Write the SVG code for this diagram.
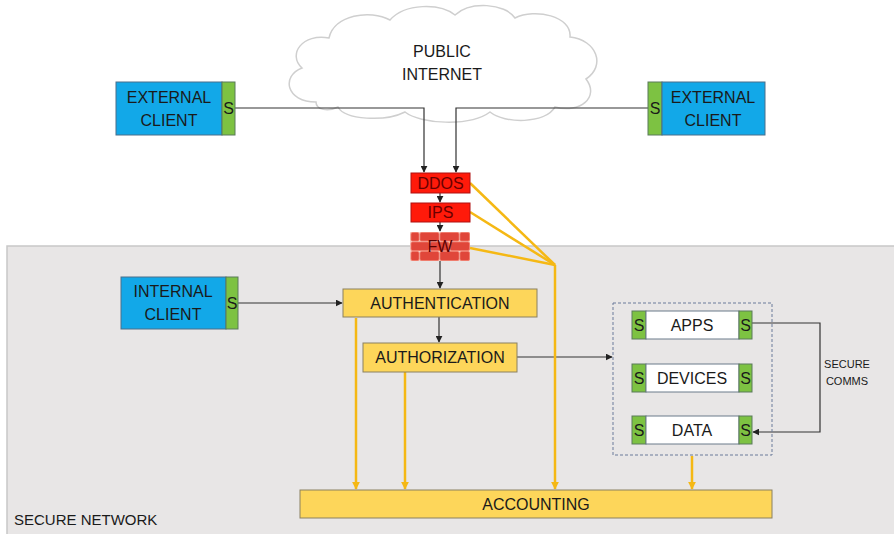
<svg xmlns="http://www.w3.org/2000/svg" width="894" height="534" viewBox="0 0 894 534">
<defs>
<style>
text{font-family:"Liberation Sans",Arial,sans-serif;fill:#1a1a1a;text-anchor:middle}
.t{font-size:16px}
.blue{fill:#12a8e8;stroke:#4a6f8a;stroke-width:1}
.green{fill:#7dc242;stroke:#5a7a5a;stroke-width:1}
.yel{fill:#fdd65a;stroke:#8a8060;stroke-width:1}
.wht{fill:#ffffff;stroke:#6a7a8a;stroke-width:1}
.ln{fill:none;stroke:#333;stroke-width:1.2}
.yl{fill:none;stroke:#f5b814;stroke-width:2.5}
.red{fill:#ff1a0a;stroke:#b01010;stroke-width:1}
.brick{fill:#e0463a;stroke:#f07a6a;stroke-width:0.8}
</style>
<marker id="ab" viewBox="0 0 10 10" refX="9" refY="5" markerWidth="7" markerHeight="7" orient="auto" markerUnits="userSpaceOnUse"><path d="M0,0 L10,5 L0,10 Z" fill="#222"/></marker>
<marker id="ay" viewBox="0 0 10 10" refX="9" refY="5" markerWidth="8" markerHeight="8" orient="auto" markerUnits="userSpaceOnUse"><path d="M0,0 L10,5 L0,10 Z" fill="#f5b814"/></marker>
</defs>
<rect width="894" height="534" fill="#ffffff"/>
<g id="secure-network">
<rect x="7" y="246" width="900" height="300" fill="#e8e6e6" stroke="#c8c8c8" stroke-width="1.5"/>
<text x="14" y="525" style="font-size:15px;text-anchor:start">SECURE NETWORK</text>
</g>
<g id="cloud">
<path d="M316,102 C286,102 281,76 302,68 C287,54 303,33 329,38 C334,15 370,9 390,20 C405,3 440,3 455,15 C470,1 505,3 515,18 C535,8 572,16 570,37 C597,40 606,66 586,79 C600,97 580,114 555,107 C545,124 505,124 490,112 C470,127 420,124 405,112 C385,122 345,120 338,107 C328,112 316,110 316,102 Z" fill="#ffffff" stroke="#cfcfcf" stroke-width="1.5"/>
<text class="t" x="442" y="57">PUBLIC</text>
<text class="t" x="442" y="80">INTERNET</text>
</g>
<g id="connectors">
<polyline class="ln" points="235,108 424,108 424,172" marker-end="url(#ab)"/>
<polyline class="ln" points="648,108 456,108 456,172" marker-end="url(#ab)"/>
<line class="ln" x1="440" y1="193" x2="440" y2="202" marker-end="url(#ab)"/>
<line class="ln" x1="440" y1="222" x2="440" y2="231" marker-end="url(#ab)"/>
<line class="ln" x1="440" y1="261" x2="440" y2="288" marker-end="url(#ab)"/>
<line class="ln" x1="238" y1="303" x2="342" y2="303" marker-end="url(#ab)"/>
<line class="ln" x1="439" y1="317" x2="439" y2="342" marker-end="url(#ab)"/>
<line class="ln" x1="517" y1="357" x2="612" y2="357" marker-end="url(#ab)"/>
<polyline class="ln" points="752,323 820,323 820,432 753,432" marker-end="url(#ab)"/>
<polyline class="yl" points="470,183 555,265"/>
<polyline class="yl" points="470,212 555,265"/>
<polyline class="yl" points="470,248 555,265"/>
<line class="yl" x1="555" y1="265" x2="555" y2="489" marker-end="url(#ay)"/>
<line class="yl" x1="356" y1="318" x2="356" y2="489" marker-end="url(#ay)"/>
<line class="yl" x1="405" y1="372" x2="405" y2="489" marker-end="url(#ay)"/>
<line class="yl" x1="692" y1="456" x2="692" y2="489" marker-end="url(#ay)"/>
<text x="847" y="368" style="font-size:11px">SECURE</text>
<text x="847" y="385" style="font-size:11px">COMMS</text>
</g>
<g id="external-client-left">
<rect class="blue" x="116" y="82" width="106" height="53"/>
<rect class="green" x="222" y="82" width="13" height="53"/>
<text class="t" x="169" y="103">EXTERNAL</text>
<text class="t" x="169" y="126">CLIENT</text>
<text class="t" x="228.5" y="114">S</text>
</g>
<g id="external-client-right">
<rect class="green" x="648" y="82" width="14" height="53"/>
<rect class="blue" x="662" y="82" width="103" height="53"/>
<text class="t" x="713" y="103">EXTERNAL</text>
<text class="t" x="713" y="126">CLIENT</text>
<text class="t" x="655" y="114">S</text>
</g>
<g id="ddos">
<rect class="red" x="411" y="173" width="59" height="20"/>
<text x="440.5" y="189" style="font-size:16px;fill:#6a0000">DDOS</text>
</g>
<g id="ips">
<rect class="red" x="411" y="203" width="59" height="19"/>
<text x="440.5" y="218" style="font-size:16px;fill:#6a0000">IPS</text>
</g>
<g id="fw">
<rect x="410" y="232" width="60" height="29" fill="#f6d0c8"/>
<rect class="brick" x="411" y="232.5" width="8" height="8.5" rx="1.5"/>
<rect class="brick" x="420" y="232.5" width="19" height="8.5" rx="1.5"/>
<rect class="brick" x="440" y="232.5" width="19" height="8.5" rx="1.5"/>
<rect class="brick" x="460" y="232.5" width="9.5" height="8.5" rx="1.5"/>
<rect class="brick" x="411" y="242" width="18" height="8.5" rx="1.5"/>
<rect class="brick" x="430" y="242" width="19" height="8.5" rx="1.5"/>
<rect class="brick" x="450" y="242" width="19.5" height="8.5" rx="1.5"/>
<rect class="brick" x="411" y="251.5" width="8" height="9" rx="1.5"/>
<rect class="brick" x="420" y="251.5" width="19" height="9" rx="1.5"/>
<rect class="brick" x="440" y="251.5" width="19" height="9" rx="1.5"/>
<rect class="brick" x="460" y="251.5" width="9.5" height="9" rx="1.5"/>
<text x="440" y="252" style="font-size:16px;fill:#5a0000">FW</text>
</g>
<g id="internal-client">
<rect class="blue" x="121" y="277" width="105" height="52"/>
<rect class="green" x="226" y="277" width="12" height="52"/>
<text class="t" x="173" y="297">INTERNAL</text>
<text class="t" x="173" y="320">CLIENT</text>
<text class="t" x="232" y="309">S</text>
</g>
<g id="authentication">
<rect class="yel" x="343" y="289" width="194" height="28"/>
<text class="t" x="440" y="309">AUTHENTICATION</text>
</g>
<g id="authorization">
<rect class="yel" x="363" y="343" width="154" height="29"/>
<text class="t" x="440" y="363">AUTHORIZATION</text>
</g>
<g id="resources">
<rect x="613" y="303" width="159" height="152" fill="none" stroke="#6a7a9a" stroke-width="1" stroke-dasharray="3,2"/>
</g>
<g id="apps">
<rect class="green" x="632" y="311" width="14" height="28"/>
<rect class="wht" x="646" y="311" width="93" height="28"/>
<rect class="green" x="739" y="311" width="13" height="28"/>
<text class="t" x="639" y="331">S</text>
<text class="t" x="692" y="331">APPS</text>
<text class="t" x="745.5" y="331">S</text>
</g>
<g id="devices">
<rect class="green" x="632" y="364" width="14" height="28"/>
<rect class="wht" x="646" y="364" width="93" height="28"/>
<rect class="green" x="739" y="364" width="13" height="28"/>
<text class="t" x="639" y="384">S</text>
<text class="t" x="692" y="384">DEVICES</text>
<text class="t" x="745.5" y="384">S</text>
</g>
<g id="data">
<rect class="green" x="632" y="416" width="14" height="28"/>
<rect class="wht" x="646" y="416" width="93" height="28"/>
<rect class="green" x="739" y="416" width="13" height="28"/>
<text class="t" x="639" y="436">S</text>
<text class="t" x="692" y="436">DATA</text>
<text class="t" x="745.5" y="436">S</text>
</g>
<g id="accounting">
<rect class="yel" x="300" y="490" width="472" height="28"/>
<text class="t" x="536" y="510">ACCOUNTING</text>
</g>
</svg>
